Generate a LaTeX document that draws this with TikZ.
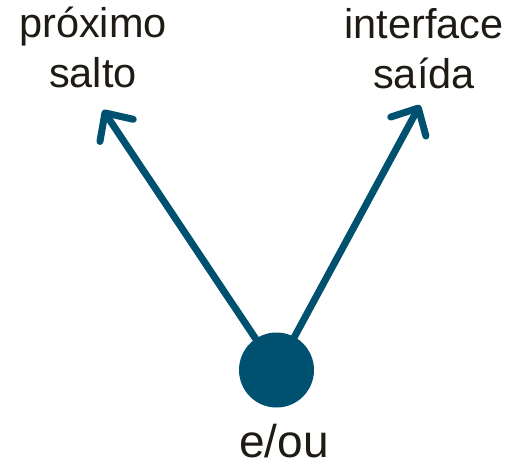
\documentclass[tikz,border=0pt]{standalone}
\usepackage{fontspec}
\setmainfont{Liberation Sans}
\usetikzlibrary{arrows.meta}

\definecolor{hopblue}{HTML}{00506F}
\definecolor{labelink}{HTML}{1E1A14}

\begin{document}
\begin{tikzpicture}[x=1pt,y=-1pt,->,>={Straight Barb[length=21pt,width=40pt,line cap=round,line join=round]},
  line width=7pt,line cap=round,
  lbl/.style={inner sep=0pt,text=labelink,align=center,font=\fontsize{41.5}{50}\selectfont}]

  \useasboundingbox (0,0) rectangle (518,458);

  \node[circle,fill=hopblue,minimum size=75pt,inner sep=0pt] (hop) at (276.5,370) {};
  \node[lbl,anchor=base,font=\fontsize{46}{50}\selectfont] (andor) at (284,457) {e/ou};
  \node[lbl,anchor=south] (next)  at (93,91)   {próximo\\salto};
  \node[lbl,anchor=south] (iface) at (424,92)  {interface\\saída};

  \coordinate (ntip) at (103,110);
  \coordinate (itip) at (420,105);

  \path[draw=hopblue] (hop.center) edge (ntip)
                      (hop.center) edge (itip);
\end{tikzpicture}
\end{document}
